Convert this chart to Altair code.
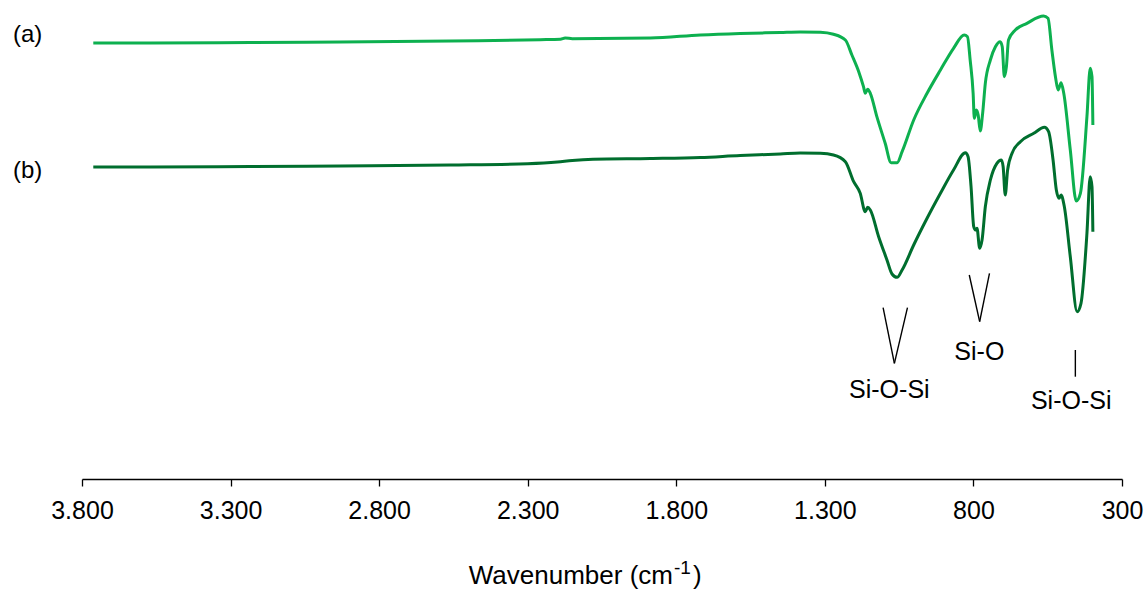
import altair as alt
import pandas as pd

# FTIR spectra, wavenumber (cm-1) vs. offset transmittance (a.u.)
wn_a = [3762, 3570, 3234, 2931, 2560, 2258, 2190, 2174, 2150, 1887, 1719, 1585,
        1450, 1383, 1315, 1271, 1231, 1209, 1186, 1170, 1164, 1156, 1147, 1125,
        1097, 1077, 1057, 1040, 1001, 956, 911, 867, 831, 820, 811, 801, 797,
        790, 784, 777, 769, 760, 743, 726, 710, 703, 696, 689, 682, 659, 620,
        564, 549, 536, 524, 515, 505, 496, 474, 454, 440, 418, 407, 401, 398]
t_a = [436, 436, 436.5, 437, 438, 439.3, 439.8, 441, 440.3, 441, 444, 445.5,
       446.5, 447, 446.7, 444.7, 439, 424, 407.3, 392.3, 385.7, 389.7, 385.7, 362.3,
       335.7, 316.3, 316.3, 327.3, 359, 385.7, 409, 430.7, 444, 442.3, 419, 385.7, 360.7,
       369, 364, 348, 365.7, 395.7, 419, 432.3, 437.3, 432.3, 402.3, 412.3, 439, 449, 455.7,
       463, 460.7, 429, 402.3, 389, 396.3, 385.7, 329, 278, 285.7, 362.3, 410.7, 402.3, 354]

wn_b = [3762, 3570, 3234, 2931, 2560, 2300, 2200, 2150, 2080, 1887, 1719, 1585,
        1450, 1383, 1315, 1271, 1231, 1203, 1181, 1164, 1156, 1147, 1119, 1091,
        1074, 1057, 1040, 1001, 956, 911, 867, 827, 818, 808, 799, 793, 788,
        779, 771, 760, 743, 721, 706, 700, 693, 685, 670, 642, 597, 561, 547,
        532, 521, 512, 505, 494, 474, 451, 438, 418, 407, 401, 398]
t_b = [312, 312, 312.5, 313, 314, 315.3, 317, 318.6, 319.8, 320.5, 321.5, 323.5,
       325, 326, 325.7, 324, 317.3, 297.3, 285.7, 267.3, 271.7, 269, 242.3, 219,
       205, 201.7, 209, 234, 260.7, 285.7, 309, 326.3, 322.3, 292.3, 252.3, 249, 250.7,
       230.7, 239, 272.3, 299, 315.7, 319, 312.3, 284, 309, 325.7, 337.3, 345.7, 351.7, 347.3,
       319, 289, 280.7, 284, 272.3, 222.3, 167.3, 175.7, 245.7, 302.3, 292.3, 247.3]

samples = ["(a)", "(b)"]
colors = ["#0db04f", "#006e2e"]

# band markers: pointer segments and their labels
seg_x1 = [1104, 1022, 814, 746, 457]
seg_y1 = [171.3, 171.3, 204, 205.7, 129]
seg_x2 = [1066, 1066, 779, 779, 457]
seg_y2 = [115.7, 115.7, 157.3, 157.3, 102.3]

band_labels = ["Si-O-Si", "Si-O", "Si-O-Si"]
band_x = [1083, 780, 471]
band_y = [81, 119, 70]

tick_values = [3800, 3300, 2800, 2300, 1800, 1300, 800, 300]

spectra = pd.concat([
    pd.DataFrame({"wavenumber": wn_a, "signal": t_a, "sample": samples[0],
                  "idx": range(len(wn_a))}),
    pd.DataFrame({"wavenumber": wn_b, "signal": t_b, "sample": samples[1],
                  "idx": range(len(wn_b))}),
])
segments = pd.DataFrame({"x1": seg_x1, "y1": seg_y1, "x2": seg_x2, "y2": seg_y2})
bands = pd.DataFrame({"label": band_labels, "x": band_x, "y": band_y})

FONT = "Liberation Sans"
x_scale = alt.Scale(domain=[300, 3800], reverse=True, nice=False, zero=False)
y_scale = alt.Scale(domain=[0, 479], nice=False, zero=False)

x_axis = alt.Axis(
    values=tick_values,
    labelExpr="replace(format(datum.value, ','), ',', '.')",
    labelFont=FONT, labelFontSize=25, labelColor="black",
    labelPadding=12, labelFlush=False, labelOverlap=False,
    domainColor="black", domainWidth=1.3,
    tickColor="black", tickWidth=1.3, tickSize=7,
    grid=False, title="",
)

lines = alt.Chart(spectra).mark_line(strokeWidth=3, interpolate="monotone").encode(
    x=alt.X("wavenumber:Q", scale=x_scale, axis=x_axis),
    y=alt.Y("signal:Q", scale=y_scale, axis=None),
    color=alt.Color("sample:N", scale=alt.Scale(domain=samples, range=colors), legend=None),
    order=alt.Order("idx:Q"),
)

pointers = alt.Chart(segments).mark_rule(color="black", strokeWidth=1.4).encode(
    x=alt.X("x1:Q", scale=x_scale),
    y=alt.Y("y1:Q", scale=y_scale),
    x2="x2:Q",
    y2="y2:Q",
)

band_text = alt.Chart(bands).mark_text(
    font=FONT, fontSize=25, color="black", align="center", baseline="alphabetic"
).encode(
    x=alt.X("x:Q", scale=x_scale),
    y=alt.Y("y:Q", scale=y_scale),
    text="label:N",
)

sample_text = alt.Chart(pd.DataFrame({"label": samples, "py": [42, 178]})).mark_text(
    font=FONT, fontSize=24, color="black", align="left", baseline="alphabetic"
).encode(
    x=alt.value(-69),
    y=alt.Y("py:Q", scale=None),
    text="label:N",
)

one = pd.DataFrame({"k": [0]})
title_main = alt.Chart(one).mark_text(
    text="Wavenumber (cm", font=FONT, fontSize=26, color="black",
    align="right", baseline="alphabetic"
).encode(x=alt.value(591), y=alt.value(584))
title_sup = alt.Chart(one).mark_text(
    text="-1", font=FONT, fontSize=19, color="black",
    align="left", baseline="alphabetic"
).encode(x=alt.value(592), y=alt.value(574))
title_close = alt.Chart(one).mark_text(
    text=")", font=FONT, fontSize=26, color="black",
    align="left", baseline="alphabetic"
).encode(x=alt.value(611), y=alt.value(584))

chart = alt.layer(
    lines, pointers, band_text, sample_text, title_main, title_sup, title_close
).properties(
    width=1040, height=479,
    autosize=alt.AutoSizeParams(type="none"),
    padding={"left": 82, "top": 0, "right": 25, "bottom": 111},
    background="white",
).configure_view(strokeWidth=0)

chart.save("out.html", embed_options={"renderer": "svg", "actions": False})
